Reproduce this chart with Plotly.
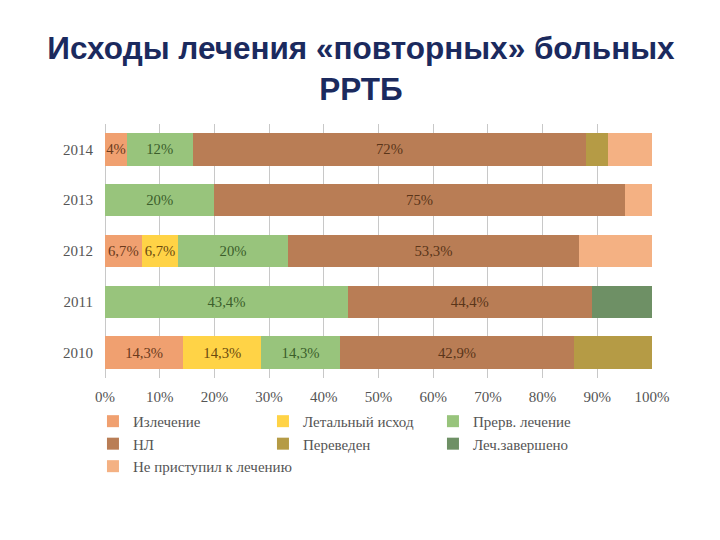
import plotly.graph_objects as go

years = ["2010", "2011", "2012", "2013", "2014"]

series_names = ["Излечение", "Летальный исход", "Прерв. лечение", "НЛ",
                "Переведен", "Леч.завершено", "Не приступил к лечению"]

izl = [14.3, 0, 6.7, 0, 4]
letal = [14.3, 0, 6.7, 0, 0]
prerv = [14.3, 44.4, 20, 20, 12]
nl = [42.9, 44.6, 53.3, 75, 72]
perev = [14.2, 0, 0, 0, 4]
lech = [0, 11.0, 0, 0, 0]
nepr = [0, 0, 13.3, 5, 8]

izl_lbl = ["14,3%", "", "6,7%", "", "4%"]
letal_lbl = ["14,3%", "", "6,7%", "", ""]
prerv_lbl = ["14,3%", "43,4%", "20%", "20%", "12%"]
nl_lbl = ["42,9%", "44,4%", "53,3%", "75%", "72%"]
empty_lbl = ["", "", "", "", ""]

colors = ["#F0A070", "#FFD346", "#98C47C", "#B97D55", "#B59B45", "#6E9065", "#F4B183"]
text_colors = ["#6B3A1C", "#6B4A10", "#3B5E2B", "#5A3519", "#333333", "#333333", "#333333"]

values = [izl, letal, prerv, nl, perev, lech, nepr]
labels = [izl_lbl, letal_lbl, prerv_lbl, nl_lbl, empty_lbl, empty_lbl, empty_lbl]

fig = go.Figure()
for name, v, t, c, tc in zip(series_names, values, labels, colors, text_colors):
    fig.add_trace(go.Bar(
        y=years, x=v, name=name, orientation="h",
        marker=dict(color=c, line=dict(width=0)),
        text=t, textposition="inside", insidetextanchor="middle",
        textangle=0, textfont=dict(family="Liberation Serif", size=16, color=tc),
        hoverinfo="skip",
    ))

fig.update_layout(
    barmode="stack",
    bargap=0.36,
    width=720, height=540,
    paper_bgcolor="white", plot_bgcolor="white",
    margin=dict(l=97, r=76, t=116, b=170, autoexpand=False),
    title=dict(
        text="<b>Исходы лечения «повторных» больных<br>РРТБ</b>",
        x=(361 - 8) / 720, xanchor="center", xref="container",
        y=1 - 51 / 540, yanchor="middle", yref="container",
        font=dict(family="Liberation Sans", size=31.5, color="#1B2A5E"),
    ),
    uniformtext=dict(minsize=14, mode="show"),
    xaxis=dict(
        range=[0, 100], dtick=10, ticksuffix="%",
        showgrid=True, gridcolor="#C8C8C8", gridwidth=1,
        zeroline=True, zerolinecolor="#C8C8C8", zerolinewidth=1,
        showline=False, ticks="", ticklabelstandoff=8,
        tickfont=dict(family="Liberation Serif", size=15, color="#555555"),
        fixedrange=True, automargin=False,
    ),
    yaxis=dict(
        categoryorder="array", categoryarray=years,
        showgrid=False, showline=False, ticks="", ticklen=0,
        tickfont=dict(family="Liberation Serif", size=15, color="#555555"),
        ticklabelstandoff=11, automargin=False,
    ),
    legend=dict(
        orientation="h", x=-0.022, xanchor="left", y=-0.106, yanchor="top",
        entrywidth=125, entrywidthmode="pixels",
        font=dict(family="Liberation Serif", size=15, color="#555555"),
        traceorder="normal", itemwidth=30, tracegroupgap=0,
    ),
    showlegend=True,
)

fig.write_html("out.html")
